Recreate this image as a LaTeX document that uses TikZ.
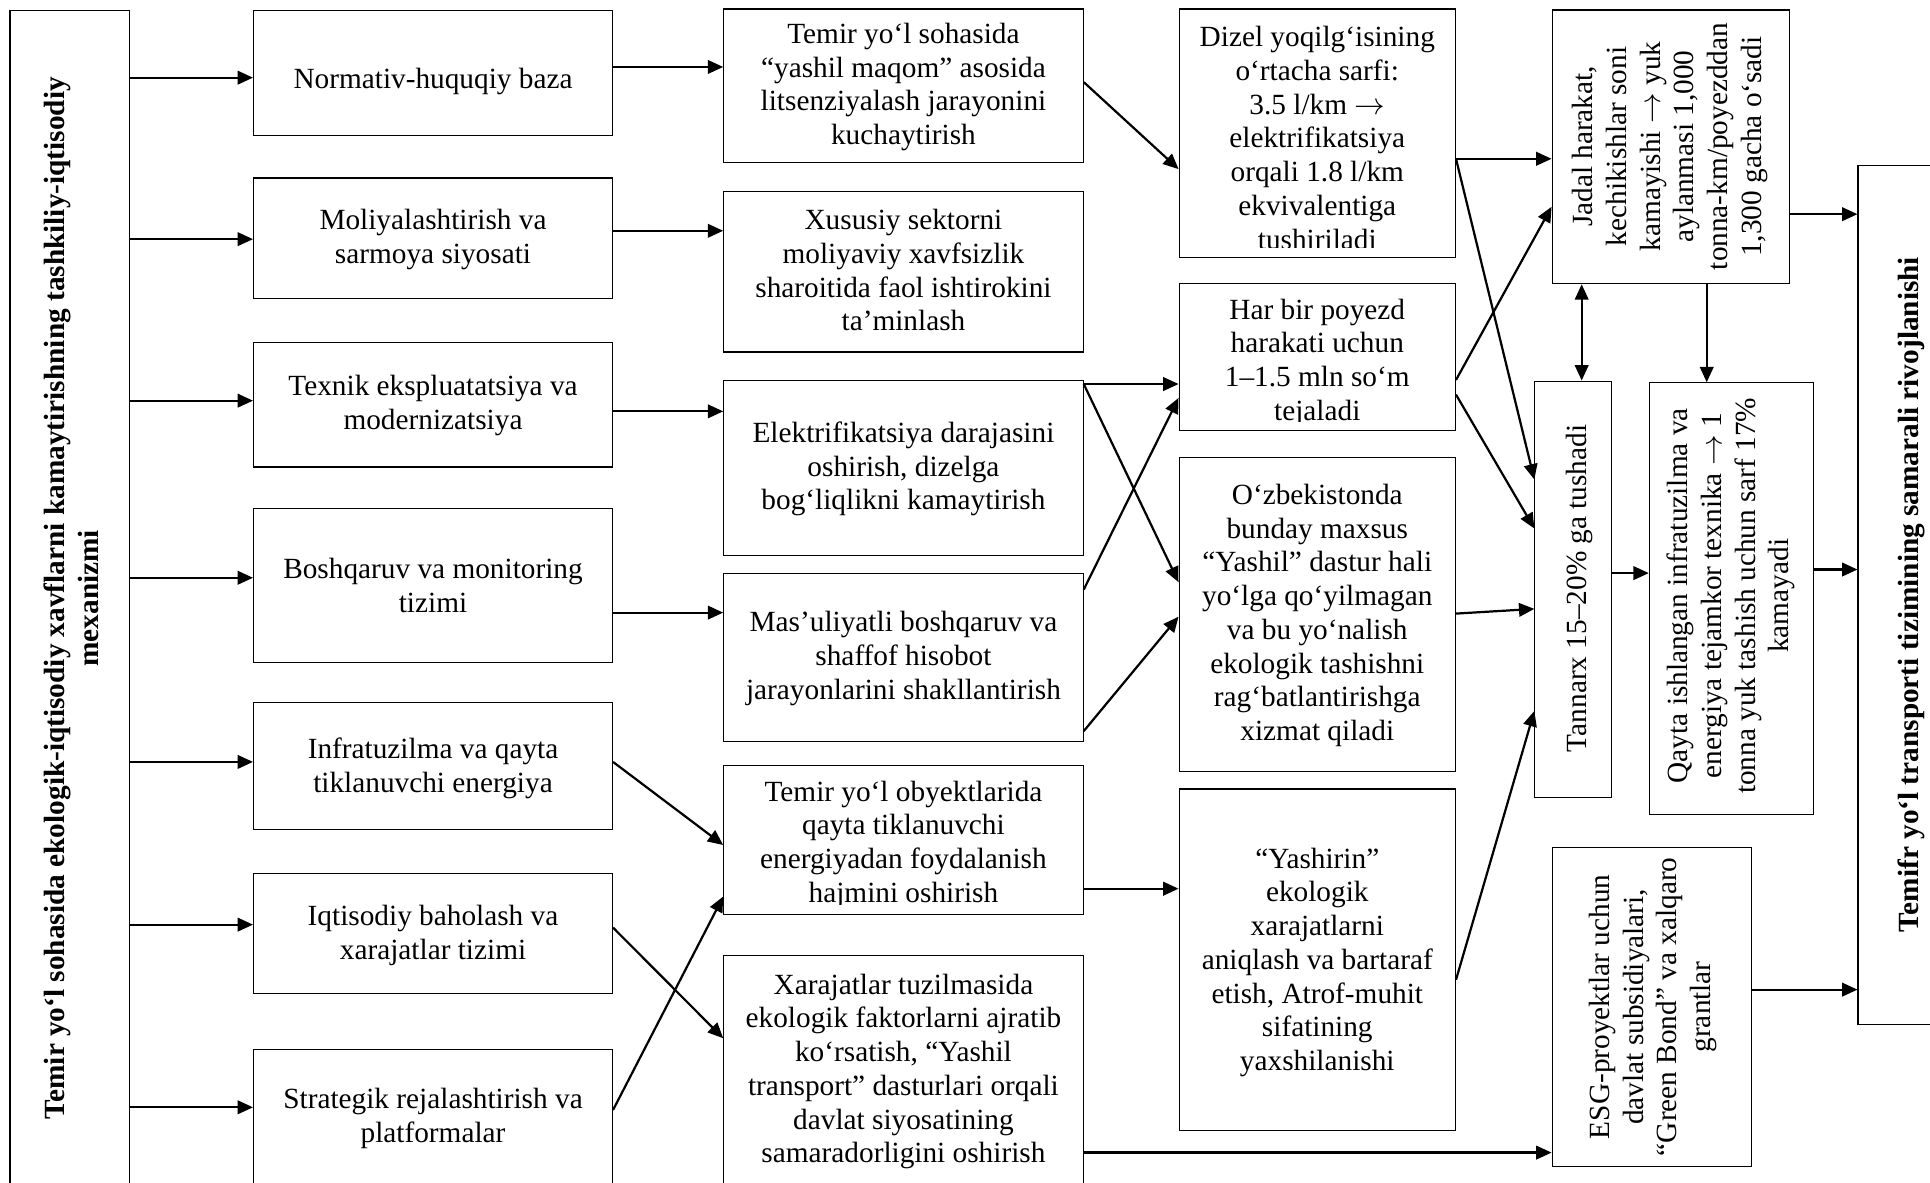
\documentclass[tikz,border=0pt]{standalone}
\usepackage{fontspec}
\setmainfont{Liberation Serif}
\usetikzlibrary{arrows.meta}
\newcommand\lnstrut{\rule[-3.2pt]{0pt}{27.4pt}}
\newcommand\rar{$\rightarrow$}
\begin{document}
\begin{tikzpicture}[x=1pt,y=-1pt,
  box/.style={draw, line width=0.9pt, inner sep=0pt, rectangle},
  txt/.style={align=center, inner sep=0pt, font=\fontsize{23.8pt}{27.4pt}\selectfont,
    execute at begin node=\lnstrut, execute at end node=\lnstrut},
  btxt/.style={txt, font=\fontsize{23.8pt}{27.4pt}\selectfont\bfseries},
  arr/.style={line width=1.8pt, -{Triangle[length=12.5pt,width=11pt]}},
  darr/.style={line width=1.8pt, {Triangle[length=12.5pt,width=11pt]}-{Triangle[length=12.5pt,width=11pt]}},
]
\path[use as bounding box, fill=white] (0,0) rectangle (1568,961);

% ---------- boxes ----------
\node[box, minimum width=97pt, minimum height=955.3pt] (LB) at (56.6,486.4) {};
\node[btxt, rotate=90] (LBt) at (59.5,486) {Temir yo‘l sohasida ekologik-iqtisodiy xavflarni kamaytirishning tashkiliy-iqtisodiy\\ mexanizmi};

\node[box, minimum width=291.6pt, minimum height=101.3pt] (c1) at (351.8,59.35) {};
\node[box, minimum width=291.6pt, minimum height=97.6pt] (c2) at (351.8,193.4) {};
\node[box, minimum width=291.6pt, minimum height=100.8pt] (c3) at (351.8,329) {};
\node[box, minimum width=291.6pt, minimum height=125.1pt] (c4) at (351.8,476) {};
\node[box, minimum width=291.6pt, minimum height=103.2pt] (c5) at (351.8,622.4) {};
\node[box, minimum width=291.6pt, minimum height=97.8pt] (c6) at (351.8,758.6) {};
\node[box, minimum width=291.6pt, minimum height=112pt] (c7) at (351.8,909) {};
\node[txt] (c1t) at (351.8,62) {Normativ-huquqiy baza};
\node[txt] (c2t) at (351.8,194.7) {Moliyalashtirish va\\ sarmoya siyosati};
\node[txt] (c3t) at (351.8,329.5) {Texnik ekspluatatsiya va\\ modernizatsiya};
\node[txt] (c4t) at (351.8,477) {Boshqaruv va monitoring\\ tizimi};
\node[txt] (c5t) at (351.8,624.5) {Infratuzilma va qayta\\ tiklanuvchi energiya};
\node[txt] (c6t) at (351.8,760) {Iqtisodiy baholash va\\ xarajatlar tizimi};
\node[txt] (c7t) at (351.8,908.8) {Strategik rejalashtirish va\\ platformalar};

\node[box, minimum width=292pt, minimum height=124.7pt] (A) at (734,69.65) {};
\node[box, minimum width=292pt, minimum height=130.4pt] (B) at (734,220.8) {};
\node[box, minimum width=292pt, minimum height=142.4pt] (C) at (734,380.2) {};
\node[box, minimum width=292pt, minimum height=136.5pt] (D) at (734,534.25) {};
\node[box, minimum width=292pt, minimum height=121pt] (E) at (734,682.5) {};
\node[box, minimum width=292pt, minimum height=187.4pt] (F) at (734,870.3) {};
\node[txt] (At) at (734,70.7) {Temir yo‘l sohasida\\ “yashil maqom” asosida\\ litsenziyalash jarayonini\\ kuchaytirish};
\node[txt] (Bt) at (734,221) {Xususiy sektorni\\ moliyaviy xavfsizlik\\ sharoitida faol ishtirokini\\ ta’minlash};
\node[txt] (Ct) at (734,381) {Elektrifikatsiya darajasini\\ oshirish, dizelga\\ bog‘liqlikni kamaytirish};
\node[txt] (Dt) at (734,535) {Mas’uliyatli boshqaruv va\\ shaffof hisobot\\ jarayonlarini shakllantirish};
\begin{scope}
\clip (E.north west) rectangle ([yshift=8.5pt]E.south east);
\node[txt] (Et) at (734,686.2) {Temir yo‘l obyektlarida\\ qayta tiklanuvchi\\ energiyadan foydalanish\\ hajmini oshirish};
\end{scope}
\node[txt] (Ft) at (734,870.5) {Xarajatlar tuzilmasida\\ ekologik faktorlarni ajratib\\ ko‘rsatish, “Yashil\\ transport” dasturlari orqali\\ davlat siyosatining\\ samaradorligini oshirish};

\node[box, minimum width=224.5pt, minimum height=201.7pt] (G) at (1070.2,108.15) {};
\node[box, minimum width=224.5pt, minimum height=120pt] (H) at (1070.2,290) {};
\node[box, minimum width=224.5pt, minimum height=255.2pt] (I) at (1070.2,499.4) {};
\node[box, minimum width=224.5pt, minimum height=277.8pt] (J) at (1070.2,779.9) {};
\begin{scope}
\clip (G.north west) rectangle ([yshift=8pt]G.south east);
\node[txt] (Gt) at (1070.2,113.5) {Dizel yoqilg‘isining\\ o‘rtacha sarfi:\\ 3.5 l/km \rar\\ elektrifikatsiya\\ orqali 1.8 l/km\\ ekvivalentiga\\ tushiriladi};
\end{scope}
\begin{scope}
\clip (H.north west) rectangle ([yshift=8pt]H.south east);
\node[txt] (Ht) at (1070.2,294.6) {Har bir poyezd\\ harakati uchun\\ 1–1.5 mln so‘m\\ tejaladi};
\end{scope}
\node[txt] (It) at (1070.2,500) {O‘zbekistonda\\ bunday maxsus\\ “Yashil” dastur hali\\ yo‘lga qo‘yilmagan\\ va bu yo‘nalish\\ ekologik tashishni\\ rag‘batlantirishga\\ xizmat qiladi};
\node[txt] (Jt) at (1070.2,781.8) {“Yashirin”\\ ekologik\\ xarajatlarni\\ aniqlash va bartaraf\\ etish, Atrof-muhit\\ sifatining\\ yaxshilanishi};

\node[box, minimum width=193pt, minimum height=222.4pt] (K) at (1357.5,119.3) {};
\node[box, minimum width=62.5pt, minimum height=338.4pt] (L) at (1278.25,478.8) {};
\node[box, minimum width=133pt, minimum height=350.7pt] (M) at (1406.5,486.35) {};
\node[box, minimum width=162pt, minimum height=259.4pt] (N) at (1342,818.3) {};
\node[box, minimum width=80.5pt, minimum height=697.4pt] (O) at (1549.75,483.3) {};
\node[txt, rotate=90] (Kt) at (1356.7,119) {Jadal harakat,\\ kechikishlar soni\\ kamayishi \rar\ yuk\\ aylanmasi 1,000\\ tonna-km/poyezddan\\ 1,300 gacha o‘sadi};
\node[txt, rotate=90] (Lt) at (1279,478) {Tannarx 15–20\% ga tushadi};
\node[txt, rotate=90] (Mt) at (1406.5,484) {Qayta ishlangan infratuzilma va\\ energiya tejamkor texnika \rar\ 1\\ tonna yuk tashish uchun sarf 17\%\\ kamayadi};
\node[txt, rotate=90] (Nt) at (1343,818) {ESG-proyektlar uchun\\ davlat subsidiyalari,\\ “Green Bond” va xalqaro\\ grantlar};
\node[btxt, rotate=90] (Ot) at (1549,483) {Temifr yo‘l transporti tizimining samarali rivojlanishi};

% ---------- connectors ----------
\draw[arr] (LB.east |- 0,63.1) -- (c1.west |- 0,63.1);
\draw[arr] (LB.east |- 0,194.3) -- (c2.west |- 0,194.3);
\draw[arr] (LB.east |- 0,325.5) -- (c3.west |- 0,325.5);
\draw[arr] (LB.east |- 0,469.4) -- (c4.west |- 0,469.4);
\draw[arr] (LB.east |- 0,619) -- (c5.west |- 0,619);
\draw[arr] (LB.east |- 0,751.2) -- (c6.west |- 0,751.2);
\draw[arr] (LB.east |- 0,899.6) -- (c7.west |- 0,899.6);

\draw[arr] (c1.east |- 0,54.4) -- (A.west |- 0,54.4);
\draw[arr] (c2.east |- 0,187.5) -- (B.west |- 0,187.5);
\draw[arr] (c3.east |- 0,334.2) -- (C.west |- 0,334.2);
\draw[arr] (c4.east |- 0,497.7) -- (D.west |- 0,497.7);
\draw[arr] (c5.east |- 0,619) -- (E.west |- 0,686.5);
\draw[arr] (c6.east |- 0,753.6) -- (F.west |- 0,843.5);
\draw[arr] (c7.east |- 0,901.8) -- (E.west |- 0,728.4);

\draw[arr] (A.east |- 0,66.7) -- (G.west |- 0,137.4);
\draw[arr] (C.east |- 0,312) -- (H.west |- 0,312);
\draw[arr] (C.east |- 0,312) -- (I.west |- 0,473);
\draw[arr] (D.east |- 0,479) -- (H.west |- 0,323.3);
\draw[arr] (D.east |- 0,594) -- (I.west |- 0,501);
\draw[arr] (E.east |- 0,722) -- (J.west |- 0,722);
\draw[arr] (F.east |- 0,936.4) -- (N.west |- 0,936.4);

\draw[arr] (G.east |- 0,129) -- (K.west |- 0,129);
\draw[arr] (G.east |- 0,129) -- (L.west |- 0,389.6);
\draw[arr] (H.east |- 0,308.7) -- (K.west |- 0,168);
\draw[arr] (H.east |- 0,320.6) -- (L.west |- 0,429.4);
\draw[arr] (I.east |- 0,498.5) -- (L.west |- 0,494.7);
\draw[arr] (J.east |- 0,796) -- (L.west |- 0,577.6);

\draw[darr] (K.south -| 1285,0) -- (L.north -| 1285,0);
\draw[arr] (K.south -| 1386.6,0) -- (M.north -| 1386.6,0);
\draw[arr] (K.east |- 0,174) -- (O.west |- 0,174);
\draw[arr] (L.east |- 0,465.6) -- (M.west |- 0,465.6);
\draw[arr] (M.east |- 0,462.7) -- (O.west |- 0,462.7);
\draw[arr] (N.east |- 0,804) -- (O.west |- 0,804);
\end{tikzpicture}
\end{document}
